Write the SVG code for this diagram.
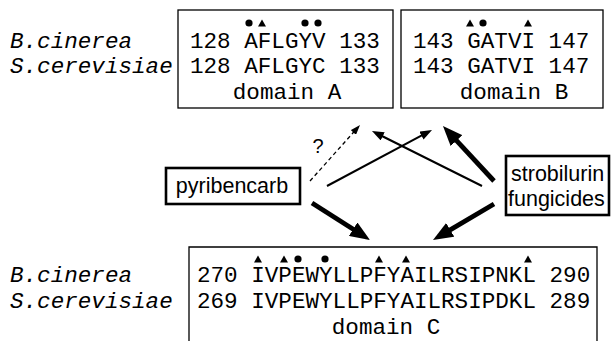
<svg xmlns="http://www.w3.org/2000/svg" width="611" height="341" viewBox="0 0 611 341">
<style>
.mono{font-family:"Liberation Mono","Courier New",monospace;font-size:22.6px;fill:#000}
.it{font-style:italic}
.sans{font-family:"Liberation Sans",Arial,sans-serif;font-size:21.5px;fill:#000}
.dom{fill:none;stroke:#000;stroke-width:1.3}
.agent{fill:#fff;stroke:#000;stroke-width:2.6}
.thin{fill:none;stroke:#000;stroke-width:2}
.dash{fill:none;stroke:#000;stroke-width:1.3;stroke-dasharray:4 3}
.thick{fill:none;stroke:#000;stroke-width:4.8}
</style>
<defs>
<marker id="hThin" viewBox="0 0 12 9" refX="2" refY="4.5" markerWidth="12" markerHeight="9" markerUnits="userSpaceOnUse" orient="auto"><path d="M0,0 L12,4.5 L0,9 z" fill="#000"/></marker>
<marker id="hDash" viewBox="0 0 10 7" refX="2" refY="3.5" markerWidth="10" markerHeight="7" markerUnits="userSpaceOnUse" orient="auto"><path d="M0,0 L10,3.5 L0,7 z" fill="#000"/></marker>
<marker id="hThick" viewBox="0 0 20 16" refX="2" refY="8" markerWidth="20" markerHeight="16" markerUnits="userSpaceOnUse" orient="auto"><path d="M0,0 L20,8 L0,16 z" fill="#000"/></marker>
</defs>
<rect width="611" height="341" fill="#fff"/>

<g id="labels-top">
<text class="mono it" x="10" y="48">B.cinerea</text>
<text class="mono it" x="10" y="73">S.cerevisiae</text>
</g>

<g id="domainA">
<rect class="dom" x="178" y="10" width="215" height="98"/>
<circle cx="249" cy="23" r="3.6"/>
<path d="M258,26.5 L262,19.5 L266,26.5 z"/>
<circle cx="305" cy="23" r="3.6"/>
<circle cx="318" cy="23" r="3.6"/>
<text class="mono" x="190" y="48">128 AFLGYV 133</text>
<text class="mono" x="190" y="73">128 AFLGYC 133</text>
<text class="mono" x="287" y="99" text-anchor="middle">domain A</text>
</g>

<g id="domainB">
<rect class="dom" x="401" y="10" width="202" height="98"/>
<path d="M466,26.5 L470,19.5 L474,26.5 z"/>
<circle cx="483" cy="23" r="3.6"/>
<path d="M524,26.5 L528,19.5 L532,26.5 z"/>
<text class="mono" x="413" y="48">143 GATVI 147</text>
<text class="mono" x="413" y="73">143 GATVI 147</text>
<text class="mono" x="514" y="99" text-anchor="middle">domain B</text>
</g>

<g id="pyribencarb">
<rect class="agent" x="166" y="168" width="134" height="36"/>
<text class="sans" x="232" y="193" text-anchor="middle">pyribencarb</text>
</g>

<g id="strobilurin">
<rect class="agent" x="506" y="156" width="103" height="59"/>
<text class="sans" x="511" y="181">strobilurin</text>
<text class="sans" x="508" y="206">fungicides</text>
</g>

<g id="labels-bottom">
<text class="mono it" x="10" y="282">B.cinerea</text>
<text class="mono it" x="10" y="308">S.cerevisiae</text>
</g>

<g id="domainC">
<path class="dom" d="M189,350 L189,247 L597,247 L597,350"/>
<path d="M254,262.5 L258,255.5 L262,262.5 z"/>
<path d="M280,262.5 L284,255.5 L288,262.5 z"/>
<circle cx="298" cy="259" r="3.6"/>
<circle cx="325" cy="259" r="3.6"/>
<path d="M375,262.5 L379,255.5 L383,262.5 z"/>
<path d="M402,262.5 L406,255.5 L410,262.5 z"/>
<path d="M524,262.5 L528,255.5 L532,262.5 z"/>
<text class="mono" x="197" y="282">270 IVPEWYLLPFYAILRSIPNKL 290</text>
<text class="mono" x="197" y="308">269 IVPEWYLLPFYAILRSIPDKL 289</text>
<text class="mono" x="386" y="334" text-anchor="middle">domain C</text>
</g>

<g id="connectors">
<path class="dash" d="M310,181 L354.7,131" marker-end="url(#hDash)"/>
<text class="sans" x="318" y="153" text-anchor="middle" style="font-size:20px">?</text>
<path class="thin" d="M327,186 L423.2,134.7" marker-end="url(#hThin)"/>
<path class="thin" d="M482,186 L380.9,135.5" marker-end="url(#hThin)"/>
<path class="thick" d="M494,181 L455.2,139.2" marker-end="url(#hThick)"/>
<path class="thick" d="M312,203 L354.8,230.3" marker-end="url(#hThick)"/>
<path class="thick" d="M494,204 L448.5,230.9" marker-end="url(#hThick)"/>
</g>
</svg>
